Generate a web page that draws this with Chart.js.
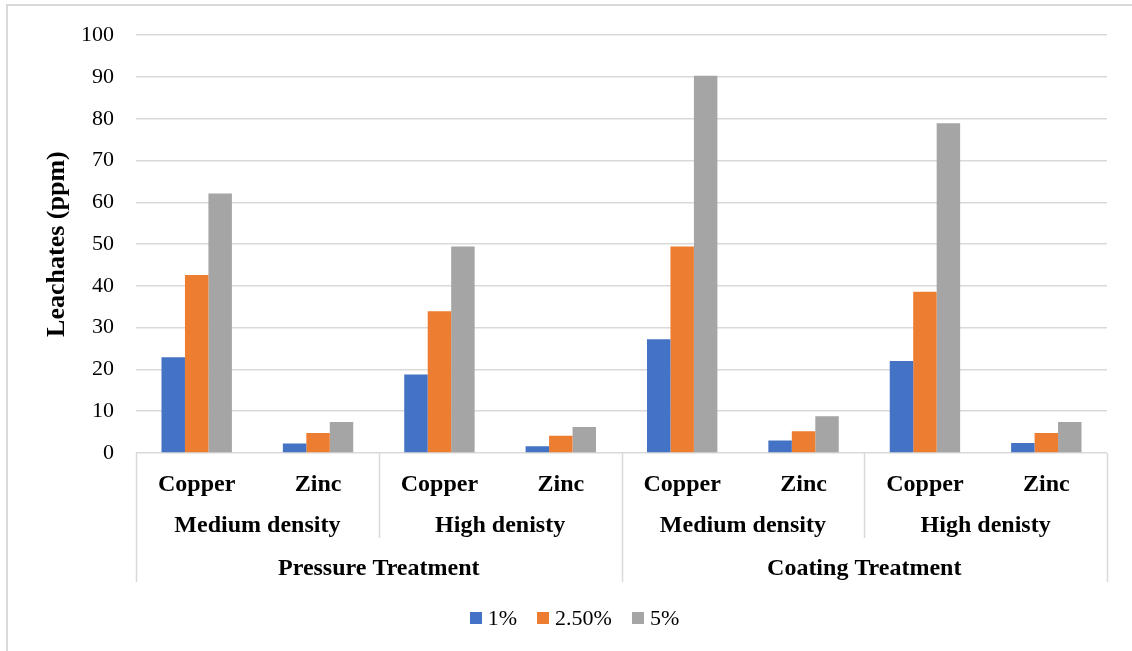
<!DOCTYPE html>
<html>
<head>
<meta charset="utf-8">
<title>Leachates (ppm)</title>
<script src="https://cdn.jsdelivr.net/npm/chart.js@4/dist/chart.umd.min.js"></script>
<style>
  html, body { margin: 0; padding: 0; background: #ffffff; }
  canvas { display: block; }
</style>
</head>
<body>
<canvas id="chart" width="1132" height="651"></canvas>
<script>
// Metal categories along the axis (innermost level)
const metals = ['Copper', 'Zinc', 'Copper', 'Zinc', 'Copper', 'Zinc', 'Copper', 'Zinc'];
// Board density (middle level, two metals each)
const densities = ['Medium density', 'High denisty', 'Medium density', 'High denisty'];
// Treatment method (outer level, four metals each)
const treatments = ['Pressure Treatment', 'Coating Treatment'];

// Preservative concentrations
const seriesNames = ['1%', '2.50%', '5%'];
const leach1 = [22.9, 2.3, 18.8, 1.6, 27.2, 3.0, 22.0, 2.4];
const leach25 = [42.6, 4.8, 33.9, 4.1, 49.4, 5.2, 38.6, 4.8];
const leach5 = [62.1, 7.4, 49.4, 6.2, 90.3, 8.8, 78.9, 7.4];

const yTicks = [0, 10, 20, 30, 40, 50, 60, 70, 80, 90, 100];

const seriesColors = ['#4472C4', '#ED7D31', '#A5A5A5'];
const FONT = "'Liberation Serif', 'Times New Roman', serif";
const LINE = '#d9d9d9';

// Grouped category labels, separators, legend and frame
const decorPlugin = {
  id: 'decor',
  afterDraw(chart) {
    const ctx = chart.ctx;
    const x = chart.scales.x;
    const area = chart.chartArea;
    const n = metals.length;
    const edge = i => {
      if (i <= 0) return area.left;
      if (i >= n) return area.right;
      return (x.getPixelForValue(i - 1) + x.getPixelForValue(i)) / 2;
    };
    const base = area.bottom;

    ctx.save();
    ctx.strokeStyle = LINE;
    ctx.lineWidth = 1.5;
    // separators: outer ones reach the treatment row, inner ones only the density row
    for (let i = 0; i <= n; i += 2) {
      const px = Math.round(edge(i)) + 0.5;
      const outer = i % 4 === 0;
      ctx.beginPath();
      ctx.moveTo(px, base);
      ctx.lineTo(px, outer ? base + 129 : base + 85);
      ctx.stroke();
    }

    ctx.fillStyle = '#000000';
    ctx.textAlign = 'center';
    ctx.textBaseline = 'middle';
    ctx.font = 'bold 24px ' + FONT;
    densities.forEach((label, k) => {
      const cx = (edge(k * 2) + edge(k * 2 + 2)) / 2;
      ctx.fillText(label, cx, base + 73);
    });
    treatments.forEach((label, k) => {
      const cx = (edge(k * 4) + edge(k * 4 + 4)) / 2;
      ctx.fillText(label, cx, base + 116);
    });

    // legend
    ctx.font = '22px ' + FONT;
    ctx.textAlign = 'left';
    const box = 12, gap = 6, spacing = 20;
    const widths = seriesNames.map(s => box + gap + ctx.measureText(s).width);
    const total = widths.reduce((a, b) => a + b, 0) + spacing * (widths.length - 1);
    let lx = 574.5 - total / 2;
    const ly = 618;
    chart.data.datasets.forEach((ds, k) => {
      ctx.fillStyle = ds.backgroundColor;
      ctx.fillRect(Math.round(lx), ly - box / 2, box, box);
      ctx.fillStyle = '#000000';
      ctx.fillText(ds.label, lx + box + gap, ly + 1);
      lx += widths[k] + spacing;
    });

    // chart frame
    ctx.strokeStyle = LINE;
    ctx.lineWidth = 2;
    ctx.beginPath();
    ctx.moveTo(7, chart.height);
    ctx.lineTo(7, 5);
    ctx.lineTo(chart.width, 5);
    ctx.stroke();
    ctx.restore();
  }
};

new Chart(document.getElementById('chart'), {
  type: 'bar',
  data: {
    labels: metals,
    datasets: [
      { label: seriesNames[0], data: leach1, backgroundColor: seriesColors[0] },
      { label: seriesNames[1], data: leach25, backgroundColor: seriesColors[1] },
      { label: seriesNames[2], data: leach5, backgroundColor: seriesColors[2] }
    ]
  },
  options: {
    responsive: false,
    animation: false,
    devicePixelRatio: 1,
    layout: { padding: { top: 35, right: 25, bottom: 0, left: 0 } },
    datasets: { bar: { barPercentage: 1, categoryPercentage: 0.58, borderWidth: 0 } },
    plugins: {
      legend: { display: false },
      tooltip: { enabled: false }
    },
    scales: {
      x: {
        grid: { display: false, drawTicks: false },
        border: { display: false },
        ticks: {
          color: '#000000',
          padding: 17,
          maxRotation: 0,
          autoSkip: false,
          font: { family: FONT, size: 24, weight: 'bold' }
        },
        afterFit(scale) { scale.height = 198; }
      },
      y: {
        min: 0,
        max: 100,
        afterBuildTicks(scale) { scale.ticks = yTicks.map(v => ({ value: v })); },
        grid: { color: LINE, lineWidth: 1.5, drawTicks: false },
        border: { display: false },
        ticks: {
          color: '#000000',
          padding: 22,
          font: { family: FONT, size: 22 }
        },
        title: {
          display: true,
          text: 'Leachates (ppm)',
          color: '#000000',
          padding: { top: 42, bottom: 0 },
          font: { family: FONT, size: 26, weight: 'bold' }
        },
        afterFit(scale) { scale.width = 136; }
      }
    }
  },
  plugins: [decorPlugin]
});
</script>
</body>
</html>
